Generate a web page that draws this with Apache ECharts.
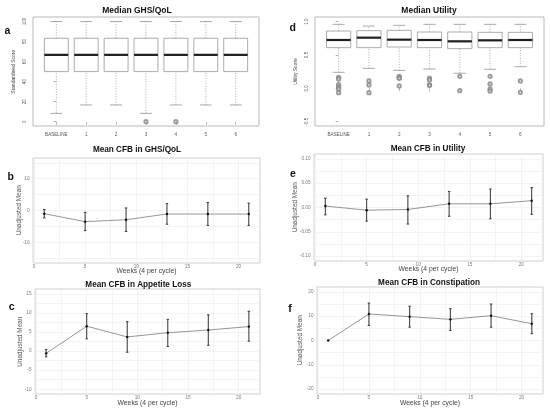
<!DOCTYPE html>
<html><head><meta charset="utf-8">
<script src="https://cdn.jsdelivr.net/npm/echarts@6/dist/echarts.min.js"></script>
<style>html,body{margin:0;padding:0;background:#fff}#c{width:550px;height:410px}</style>
</head><body><div id="c"></div>
<script>
// ---------- DATA ----------
const boxCategories = ['BASELINE', '1', '2', '3', '4', '5', '6'];
// [lower whisker, Q1, median, Q3, upper whisker]
const ghsBoxes = [
  [8.3, 50, 66.7, 83.3, 100],
  [16.7, 50, 66.7, 83.3, 100],
  [16.7, 50, 66.7, 83.3, 100],
  [8.3, 50, 66.7, 83.3, 100],
  [16.7, 50, 66.7, 83.3, 100],
  [16.7, 50, 66.7, 83.3, 100],
  [16.7, 50, 66.7, 83.3, 100]
];
const ghsOutliers = [['3', 0], ['4', 0]];
const ghsTicks = [0, 20, 40, 60, 80, 100];

const utilBoxes = [
  [0.24, 0.61, 0.725, 0.86, 0.96],
  [0.30, 0.61, 0.76, 0.865, 0.935],
  [0.27, 0.62, 0.73, 0.87, 0.945],
  [0.29, 0.61, 0.725, 0.845, 0.96],
  [0.226, 0.595, 0.705, 0.845, 0.96],
  [0.286, 0.61, 0.72, 0.84, 0.96],
  [0.325, 0.61, 0.725, 0.84, 0.96]
];
const utilOutliers = [
  ['BASELINE', 0.165], ['BASELINE', 0.14], ['BASELINE', 0.055], ['BASELINE', 0.02], ['BASELINE', -0.01], ['BASELINE', -0.065],
  ['1', 0.11], ['1', 0.05], ['1', -0.065],
  ['2', 0.18], ['2', 0.16], ['2', 0.15], ['2', 0.035],
  ['3', 0.151], ['3', 0.126], ['3', 0.051], ['3', 0.045],
  ['4', 0.18], ['4', -0.035],
  ['5', 0.18], ['5', 0.066], ['5', -0.01], ['5', -0.04],
  ['6', 0.11], ['6', -0.06]
];
const utilTicks = [-0.5, 0, 0.5, 1.0];

const weeks = [1, 5, 9, 13, 17, 21];
const weekTicks = [0, 5, 10, 15, 20];

const ghsMean = [-1.0, -3.5, -2.9, -1.1, -1.1, -1.1];
const ghsLow  = [-2.3, -6.3, -6.6, -4.3, -4.7, -4.7];
const ghsHigh = [0.3, -0.6, 0.8, 2.2, 2.5, 2.3];

const utilMean = [0.003, -0.0055, -0.004, 0.0076, 0.0076, 0.014];
const utilLow  = [-0.015, -0.028, -0.034, -0.018, -0.023, -0.014];
const utilHigh = [0.019, 0.017, 0.024, 0.033, 0.038, 0.041];

const appMean = [-0.6, 6.5, 3.7, 4.8, 5.5, 6.4];
const appLow  = [-1.5, 3.2, -0.3, 1.2, 1.5, 2.6];
const appHigh = [0.4, 9.8, 7.7, 8.3, 9.5, 10.4];

const conMean = [0, 10.9, 9.8, 8.7, 10.2, 6.9];
const conLow  = [0, 6.2, 5.5, 4.1, 5.5, 2.8];
const conHigh = [0, 15.4, 14.1, 13.1, 15.0, 11.0];

// ---------- STYLE / HELPERS ----------
const FONT = '"Liberation Sans", Arial, Helvetica, sans-serif';
const chart = echarts.init(document.getElementById('c'), null, {renderer: 'canvas'});

function renderBox(params, api) {
  const x = api.value(0);
  const unit = api.size([1, 0])[0];
  const half = unit * 0.4, cap = unit * 0.2;
  const pLo = api.coord([x, api.value(1)]);
  const pQ1 = api.coord([x, api.value(2)]);
  const pMed = api.coord([x, api.value(3)]);
  const pQ3 = api.coord([x, api.value(4)]);
  const pHi = api.coord([x, api.value(5)]);
  const cx = pLo[0];
  const wh = {stroke: '#9c9c9c', lineWidth: 0.8, lineDash: [1, 1.6]};
  const cp = {stroke: '#a0a0a0', lineWidth: 0.9};
  return {type: 'group', children: [
    {type: 'line', shape: {x1: cx, y1: pLo[1], x2: cx, y2: pQ1[1]}, style: wh},
    {type: 'line', shape: {x1: cx, y1: pQ3[1], x2: cx, y2: pHi[1]}, style: wh},
    {type: 'line', shape: {x1: cx - cap, y1: pLo[1], x2: cx + cap, y2: pLo[1]}, style: cp},
    {type: 'line', shape: {x1: cx - cap, y1: pHi[1], x2: cx + cap, y2: pHi[1]}, style: cp},
    {type: 'rect', shape: {x: cx - half, y: pQ3[1], width: 2 * half, height: pQ1[1] - pQ3[1]},
      style: {fill: '#fff', stroke: '#a3a3a3', lineWidth: 0.9}},
    {type: 'line', shape: {x1: cx - half, y1: pMed[1], x2: cx + half, y2: pMed[1]},
      style: {stroke: '#1e1e1e', lineWidth: 2.2}}
  ]};
}

function renderErr(params, api) {
  const x = api.value(0);
  const lo = api.coord([x, api.value(1)]);
  const hi = api.coord([x, api.value(2)]);
  const w = api.size([0.12, 0])[0];
  const st = {stroke: '#444', lineWidth: 1.1};
  const ch = [{type: 'line', shape: {x1: lo[0], y1: lo[1], x2: hi[0], y2: hi[1]}, style: st}];
  if (Math.abs(lo[1] - hi[1]) > 0.5) {
    ch.push({type: 'line', shape: {x1: lo[0] - w, y1: lo[1], x2: lo[0] + w, y2: lo[1]}, style: st});
    ch.push({type: 'line', shape: {x1: hi[0] - w, y1: hi[1], x2: hi[0] + w, y2: hi[1]}, style: st});
  }
  return {type: 'group', children: ch};
}

const grids = [
  {left: 33, top: 17, width: 226, height: 109, box: true},   // a
  {left: 315, top: 17, width: 229, height: 109, box: true},  // d
  {left: 33, top: 158, width: 227, height: 105},             // b
  {left: 314, top: 154, width: 229, height: 107},            // e
  {left: 35, top: 289, width: 225, height: 105},             // c
  {left: 317, top: 287, width: 226, height: 107}             // f
].map(g => ({
  left: g.left, top: g.top, width: g.width, height: g.height,
  show: true, borderColor: g.box ? '#a8a8a8' : '#c4c4c4', borderWidth: 0.8,
  backgroundColor: 'transparent', containLabel: false, outerBoundsMode: 'none'
}));

function boxX(gi) {
  return {type: 'value', gridIndex: gi, min: -0.78, max: 6.78,
    axisLine: {show: false},
    axisTick: {show: true, customValues: boxCategories.map((c, i) => i), length: 3, inside: false,
      lineStyle: {color: '#9a9a9a', width: 0.7}},
    axisLabel: {customValues: boxCategories.map((c, i) => i), formatter: v => boxCategories[Math.round(v)],
      fontSize: 4.6, color: '#555', margin: 6.5, fontFamily: FONT},
    splitLine: {show: false}};
}
function boxY(gi, min, max, ticks, fmt) {
  return {type: 'value', gridIndex: gi, min: min, max: max,
    axisLine: {show: false},
    axisTick: {show: true, customValues: ticks, length: 3, lineStyle: {color: '#9a9a9a', width: 0.7}},
    axisLabel: {customValues: ticks, formatter: fmt, rotate: 90, fontSize: 4.6, color: '#555',
      margin: 5.5, fontFamily: FONT},
    splitLine: {show: false}};
}
function ggX(gi) {
  return {type: 'value', gridIndex: gi, min: -0.1, max: 22.1,
    axisLine: {show: false},
    axisTick: {show: false, customValues: [0, 2.5, 5, 7.5, 10, 12.5, 15, 17.5, 20]},
    axisLabel: {customValues: weekTicks, fontSize: 4.7, color: '#7a7a7a', margin: 1, fontFamily: FONT},
    splitLine: {show: true, lineStyle: {color: '#ececec', width: 0.6}}};
}
function ggY(gi, min, max, labels, grid, fmt) {
  return {type: 'value', gridIndex: gi, min: min, max: max,
    axisLine: {show: false},
    axisTick: {show: false, customValues: grid},
    axisLabel: {customValues: labels, formatter: fmt, fontSize: 4.7, color: '#7a7a7a', margin: 3.5, fontFamily: FONT},
    splitLine: {show: true, lineStyle: {color: '#ececec', width: 0.6}}};
}

const catIdx = c => boxCategories.indexOf(c);
const boxSeries = (gi, boxes) => ({type: 'custom', xAxisIndex: gi, yAxisIndex: gi, renderItem: renderBox,
  encode: {x: 0, y: [1, 2, 3, 4, 5]}, data: boxes.map((b, i) => [i].concat(b)), silent: true});
const outSeries = (gi, outs) => ({type: 'scatter', xAxisIndex: gi, yAxisIndex: gi,
  symbol: 'emptyCircle', symbolSize: 3.3,
  itemStyle: {color: '#858585', borderWidth: 0.7},
  data: outs.map(o => [catIdx(o[0]), o[1]]), silent: true, z: 5});
const lineSeries = (gi, mean) => ({type: 'line', xAxisIndex: gi, yAxisIndex: gi,
  data: weeks.map((w, i) => [w, mean[i]]), symbol: 'circle', symbolSize: 2.4, z: 3,
  lineStyle: {color: '#8a8a8a', width: 0.9}, itemStyle: {color: '#111'}, silent: true});
const errSeries = (gi, low, high) => ({type: 'custom', xAxisIndex: gi, yAxisIndex: gi, renderItem: renderErr,
  encode: {x: 0, y: [1, 2]}, data: weeks.map((w, i) => [w, low[i], high[i]]), z: 2, silent: true});

const fix = n => v => v.toFixed(n);
const plain = v => String(v);

const texts = [];
function addText(txt, x, y, size, bold, color, rot) {
  texts.push({type: 'text', x: x, y: y, rotation: rot || 0,
    style: {text: txt, fontSize: size, fontWeight: bold ? 'bold' : 'normal', fontFamily: FONT,
      fill: color, align: 'center', verticalAlign: 'middle'}, silent: true, z: 10});
}
// titles
addText('Median GHS/QoL', 137, 10.3, 8.5, true, '#111');
addText('Median Utility', 429, 10.5, 8.5, true, '#111');
addText('Mean CFB in GHS/QoL', 137, 149.5, 8.2, true, '#111');
addText('Mean CFB in Utility', 428, 148.3, 8.2, true, '#111');
addText('Mean CFB in Appetite Loss', 138.3, 285, 8.2, true, '#111');
addText('Mean CFB in Constipation', 429, 282.7, 8.2, true, '#111');
// panel letters
addText('a', 7.5, 30.8, 10.5, true, '#111');
addText('d', 292.7, 28.5, 10.5, true, '#111');
addText('b', 10.7, 176.7, 10.5, true, '#111');
addText('e', 293, 174, 10.5, true, '#111');
addText('c', 11.7, 306.7, 10.5, true, '#111');
addText('f', 290, 309, 10.5, true, '#111');
// axis titles
const R = Math.PI / 2;
addText('Standardised Score', 14, 71.7, 5, false, '#444', R);
addText('Utility Score', 296, 71.5, 5, false, '#444', R);
addText('Unadjusted Mean', 19.3, 210.3, 6.4, false, '#555', R);
addText('Unadjusted Mean', 295.7, 207.3, 6.4, false, '#555', R);
addText('Unadjusted Mean', 20, 341.7, 6.4, false, '#555', R);
addText('Unadjusted Mean', 300.5, 340.3, 6.4, false, '#555', R);
addText('Weeks (4 per cycle)', 146.5, 271, 6.8, false, '#444');
addText('Weeks (4 per cycle)', 428.5, 269, 6.8, false, '#444');
addText('Weeks (4 per cycle)', 147.5, 403.3, 6.8, false, '#444');
addText('Weeks (4 per cycle)', 430, 402.7, 6.8, false, '#444');

const option = {
  animation: false,
  backgroundColor: '#fff',
  textStyle: {fontFamily: FONT},
  grid: grids,
  xAxis: [boxX(0), boxX(1), ggX(2), ggX(3), ggX(4), ggX(5)],
  yAxis: [
    boxY(0, -4.3, 104.5, ghsTicks, plain),
    boxY(1, -0.565, 1.07, utilTicks, fix(1)),
    ggY(2, -16.5, 16.5, [-10, 0, 10], [-15, -10, -5, 0, 5, 10, 15], plain),
    ggY(3, -0.11, 0.11, [-0.1, -0.05, 0, 0.05, 0.1], [-0.1, -0.075, -0.05, -0.025, 0, 0.025, 0.05, 0.075, 0.1], fix(2)),
    ggY(4, -11.25, 16.25, [-10, -5, 0, 5, 10, 15], [-10, -7.5, -5, -2.5, 0, 2.5, 5, 7.5, 10, 12.5, 15], plain),
    ggY(5, -22, 22, [-20, -10, 0, 10, 20], [-20, -15, -10, -5, 0, 5, 10, 15, 20], plain)
  ],
  series: [
    boxSeries(0, ghsBoxes), outSeries(0, ghsOutliers),
    boxSeries(1, utilBoxes), outSeries(1, utilOutliers),
    errSeries(2, ghsLow, ghsHigh), lineSeries(2, ghsMean),
    errSeries(3, utilLow, utilHigh), lineSeries(3, utilMean),
    errSeries(4, appLow, appHigh), lineSeries(4, appMean),
    errSeries(5, conLow, conHigh), lineSeries(5, conMean)
  ],
  graphic: texts
};
chart.setOption(option);
</script></body></html>
